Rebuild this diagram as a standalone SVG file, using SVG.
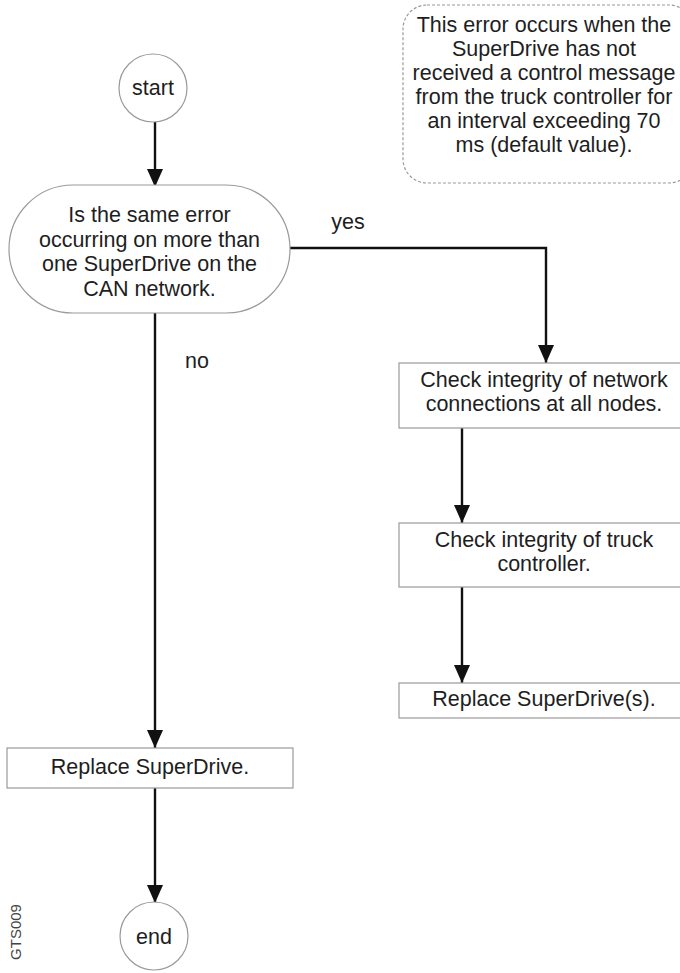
<svg xmlns="http://www.w3.org/2000/svg" width="680" height="973" viewBox="0 0 680 973">
  <style>
    .node { fill: #ffffff; stroke: #9a9a9a; stroke-width: 1.2; }
    .note { fill: #ffffff; stroke: #9a9a9a; stroke-width: 1.2; stroke-dasharray: 3 2; }
    .label { font-family: "Liberation Sans", Arial, sans-serif; font-size: 21.5px; fill: #1e1e1e; text-anchor: middle; }
    .edge { fill: none; stroke: #111111; stroke-width: 2.4; }
    .tag { font-family: "Liberation Sans", Arial, sans-serif; font-size: 15px; fill: #444444; text-anchor: middle; }
  </style>
  <defs>
    <marker id="arrow" viewBox="0 0 18 16" refX="18" refY="8" markerWidth="18" markerHeight="16" markerUnits="userSpaceOnUse" orient="auto">
      <path d="M0,0 L18,8 L0,16 z" fill="#111111"/>
    </marker>
  </defs>

  <rect width="680" height="973" fill="#ffffff"/>

  <!-- explanatory note -->
  <g id="note">
    <rect class="note" x="403" y="5" width="290" height="178" rx="24" ry="24"/>
    <text class="label" x="544" y="32">This error occurs when the</text>
    <text class="label" x="544" y="56">SuperDrive has not</text>
    <text class="label" x="544" y="80">received a control message</text>
    <text class="label" x="544" y="104">from the truck controller for</text>
    <text class="label" x="544" y="128">an interval exceeding 70</text>
    <text class="label" x="544" y="152">ms (default value).</text>
  </g>

  <!-- connectors -->
  <g id="connectors">
    <path class="edge" d="M155,122 L155,187" marker-end="url(#arrow)"/>
    <path class="edge" d="M290,248 L546,248 L546,363" marker-end="url(#arrow)"/>
    <path class="edge" d="M155,313 L155,748" marker-end="url(#arrow)"/>
    <path class="edge" d="M462,428 L462,523" marker-end="url(#arrow)"/>
    <path class="edge" d="M462,587 L462,683" marker-end="url(#arrow)"/>
    <path class="edge" d="M155,788 L155,903" marker-end="url(#arrow)"/>
    <text class="label" x="348" y="229">yes</text>
    <text class="label" x="197" y="368">no</text>
  </g>

  <g id="start">
    <circle class="node" cx="153" cy="88" r="34"/>
    <text class="label" x="153" y="95">start</text>
  </g>

  <g id="decision">
    <rect class="node" x="9" y="185" width="281" height="128" rx="64" ry="64"/>
    <text class="label" x="149.5" y="222">Is the same error</text>
    <text class="label" x="149.5" y="246.5">occurring on more than</text>
    <text class="label" x="149.5" y="271">one SuperDrive on the</text>
    <text class="label" x="149.5" y="295.5">CAN network.</text>
  </g>

  <g id="check-network">
    <rect class="node" x="399" y="363" width="290" height="65"/>
    <text class="label" x="544" y="387">Check integrity of network</text>
    <text class="label" x="544" y="411">connections at all nodes.</text>
  </g>

  <g id="check-controller">
    <rect class="node" x="399" y="523" width="290" height="64"/>
    <text class="label" x="544" y="547">Check integrity of truck</text>
    <text class="label" x="544" y="571">controller.</text>
  </g>

  <g id="replace-all">
    <rect class="node" x="399" y="683" width="290" height="35"/>
    <text class="label" x="544" y="706">Replace SuperDrive(s).</text>
  </g>

  <g id="replace-one">
    <rect class="node" x="7" y="748" width="286" height="40"/>
    <text class="label" x="150" y="774">Replace SuperDrive.</text>
  </g>

  <g id="end">
    <circle class="node" cx="154" cy="936" r="34"/>
    <text class="label" x="154" y="944">end</text>
  </g>

  <text class="tag" transform="translate(21,932) rotate(-90)">GTS009</text>
</svg>
